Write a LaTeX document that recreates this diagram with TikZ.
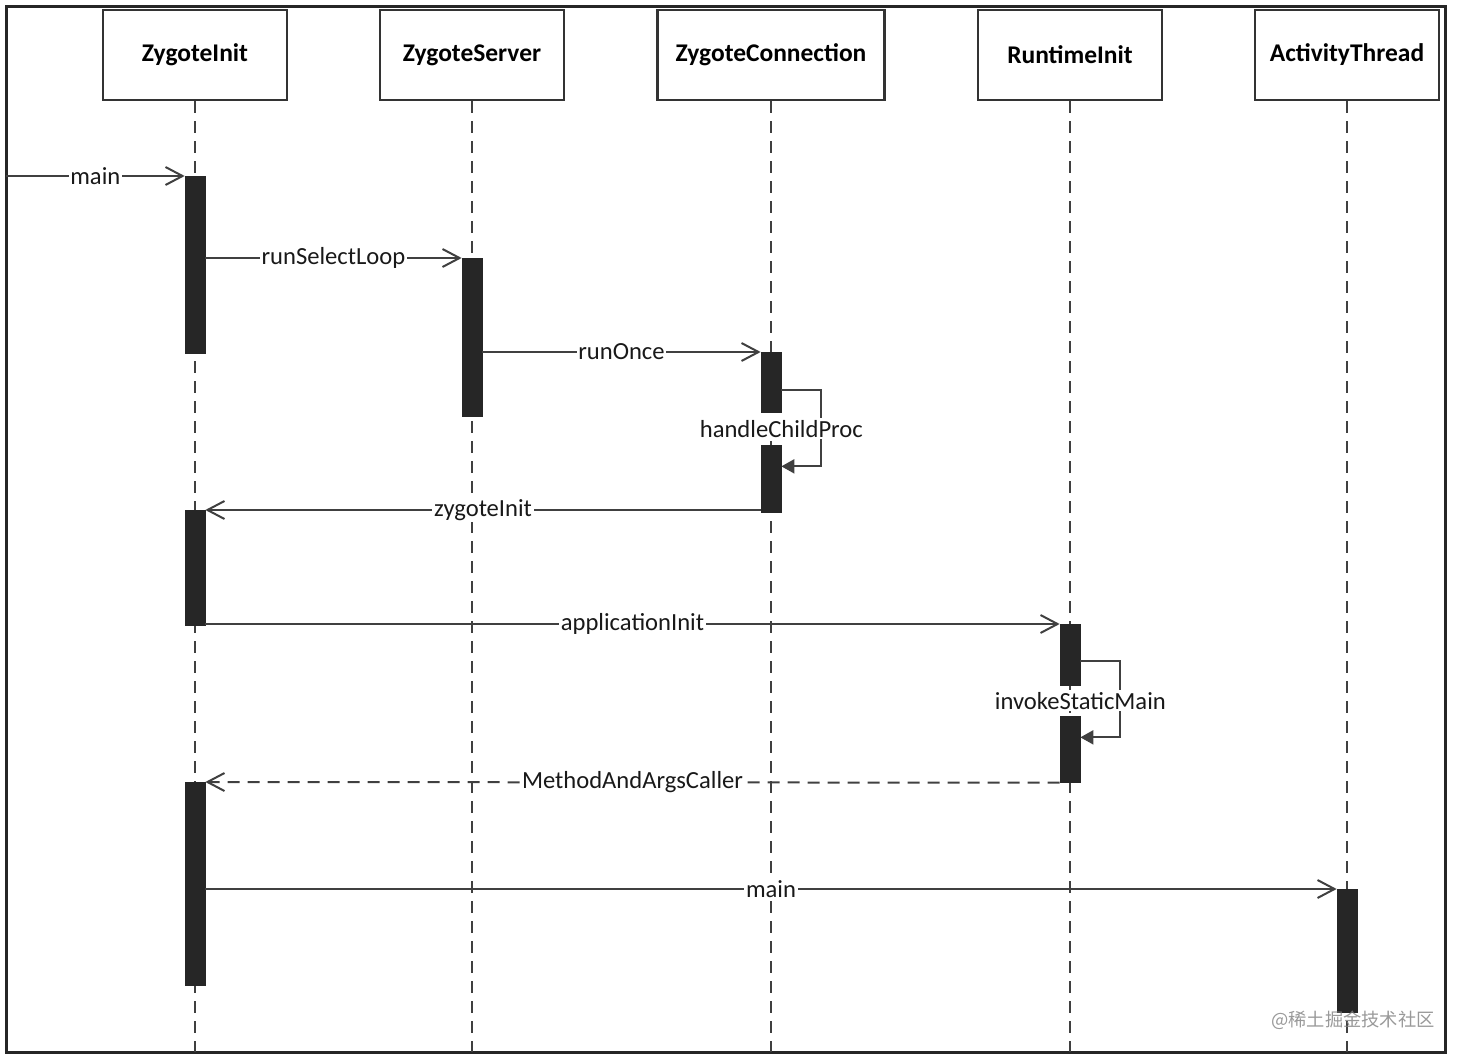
\documentclass[tikz,border=0pt]{standalone}
\usepackage{fontspec}
\setmainfont{Carlito}
\newfontfamily\cjk{Noto Sans CJK SC}
\usetikzlibrary{arrows.meta}
\begin{document}
\begin{tikzpicture}[
		x=0.2mm, y=-0.2mm,
		every node/.style={font=\fontsize{14}{16}\selectfont, text=black!90},
		head/.style={
				draw=black!80,
				line width=0.5mm,
				fill=white,
				minimum width=36.8mm,
				minimum height=18mm,
				text=black,
				font=\bfseries\fontsize{14.5}{16}\selectfont
			},
		bar/.style={draw=black!85, fill=black!85, minimum width=4mm, inner sep=0pt},
		lifeline/.style={draw=black!75, line width=0.4mm, dash pattern=on 2.4mm off 1.6mm},
		msg/.style={draw=black!75, line width=0.4mm, -{Straight Barb[length=3.4mm, width=3.6mm]}},
		ret/.style={msg, dash pattern=on 2.4mm off 1.6mm},
		selfcall/.style={draw=black!75, line width=0.4mm, -{Triangle[length=2.6mm, width=2.8mm]}},
		call/.style={fill=white, inner sep=1pt}
	]
	\useasboundingbox (0,0) rectangle (1462,1058);
	\draw[line width=0.6mm, black!85] (6,7) rectangle (1445,1052);
	\coordinate (bottom) at (0,1052);
	\coordinate (entry) at (6,176);

	\node[head] (zi) at (195,55) {ZygoteInit};
	\node[head] (zs) at (472,55) {ZygoteServer};
	\node[head, minimum width=45.4mm] (zc) at (771,55) {ZygoteConnection};
	\node[head] (ri) at (1070,55) {RuntimeInit};
	\node[head] (at) at (1347,55) {ActivityThread};

	\foreach \n in {zi,zs,zc,ri,at}
	\draw[lifeline] (\n.south) -- (\n.south |- bottom);

	\node[bar, minimum height=35.4mm, anchor=north] (zi1) at (195,176) {};
	\node[bar, minimum height=31.6mm, anchor=north] (zs1) at (472,258) {};
	\node[bar, minimum height=12mm, anchor=north] (zc1) at (771,352) {};
	\node[bar, minimum height=13.4mm, anchor=north] (zc2) at (771,445) {};
	\node[bar, minimum height=23mm, anchor=north] (zi2) at (195,510) {};
	\node[bar, minimum height=12.2mm, anchor=north] (ri1) at (1070,624) {};
	\node[bar, minimum height=13.2mm, anchor=north] (ri2) at (1070,716) {};
	\node[bar, minimum height=40.6mm, anchor=north] (zi3) at (195,782) {};
	\node[bar, minimum height=24.6mm, anchor=north] (at1) at (1347,889) {};

	\draw[msg] (entry) -- node[call] (m1) {main} (zi1.north west);
	\draw[msg] (zi1.east |- zs1.north) -- node[call] (m2) {runSelectLoop} (zs1.north west);
	\draw[msg] (zs1.east |- zc1.north) -- node[call] (m3) {runOnce} (zc1.north west);
	\draw[selfcall] ([yshift=-1.6mm]zc1.east) -- ++(40,0) |- ([yshift=2.5mm]zc2.east);
	\path (zc1.south east) -- node[call] (m4) {handleChildProc} (zc2.north east);
	\draw[msg] (zc2.west |- zi2.north) -- node[call] (m5) {zygoteInit} (zi2.north east);
	\draw[msg] (zi2.east |- ri1.north) -- node[call] (m6) {applicationInit} (ri1.north west);
	\draw[selfcall] ([yshift=-1.3mm]ri1.east) -- ++(40,0) |- ([yshift=2.4mm]ri2.east);
	\path (ri1.south east) -- node[call] (m7) {invokeStaticMain} (ri2.north east);
	\draw[ret] (ri2.south west) -- node[call] (m8) {MethodAndArgsCaller} (zi3.north east);
	\draw[msg] (zi3.east |- at1.north) -- node[call] (m9) {main} (at1.north west);

	\node[font=\cjk\fontsize{10.4}{12}\selectfont, text=black!50, opacity=.8] (wm) at (1353,1020) {@稀土掘金技术社区};
\end{tikzpicture}
\end{document}
